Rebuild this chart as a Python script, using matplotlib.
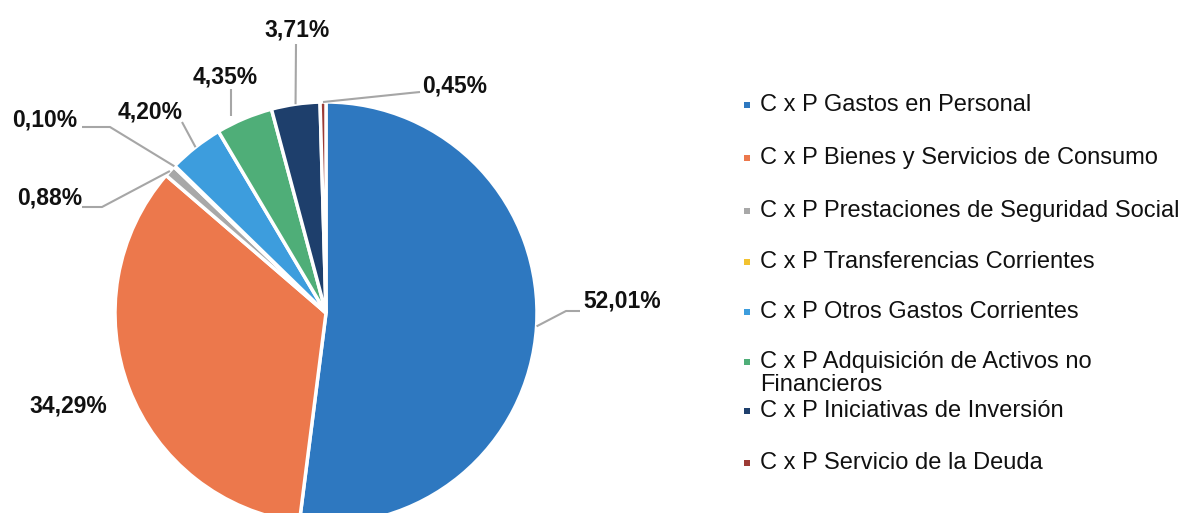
import numpy as np
import matplotlib.pyplot as plt

plt.rcParams['font.family'] = ['Liberation Sans', 'DejaVu Sans']

# data
categories = [
    'C x P Gastos en Personal',
    'C x P Bienes y Servicios de Consumo',
    'C x P Prestaciones de Seguridad Social',
    'C x P Transferencias Corrientes',
    'C x P Otros Gastos Corrientes',
    'C x P Adquisición de Activos no\nFinancieros',
    'C x P Iniciativas de Inversión',
    'C x P Servicio de la Deuda',
]
shares = [52.01, 34.29, 0.88, 0.10, 4.20, 4.35, 3.71, 0.45]
pct_labels = ['52,01%', '34,29%', '0,88%', '0,10%', '4,20%', '4,35%', '3,71%', '0,45%']

colors = ['#2e78c0', '#ec784c', '#a8a8a8', '#f2c230',
          '#3d9ddd', '#4fae78', '#1e3f6c', '#9c3b35']

W, H = 1189, 513
def py(y):
    # pixel row (from top) -> data y
    return H - y

fig = plt.figure(figsize=(W / 100, H / 100), dpi=100)
ax = fig.add_axes([0, 0, 1, 1])

cx, cy, r = 326, 313, 211
wedges, _ = ax.pie(shares, colors=colors, startangle=90, counterclock=False,
                   center=(cx, py(cy)), radius=r, frame=True,
                   wedgeprops=dict(edgecolor='white', linewidth=2.5))
ax.set_xlim(0, W)
ax.set_ylim(0, H)
ax.set_aspect('equal')
ax.axis('off')

# label text positions (px) and leader elbows (px), None = no leader
label_pos = [(622, 301), (68, 406), (50, 198), (45, 120),
             (150, 112), (225, 77), (297, 30), (455, 86)]
elbows = [
    [(566, 311), (580, 311)],
    None,
    [(102, 207), (82, 207)],
    [(110, 127), (82, 127)],
    [(182, 122)],
    [(231, 89)],
    [(296, 44)],
    [(410, 93), (420, 92)],
]
# leader start override (px) where the line doesn't leave from the wedge middle
starts = {5: (231, 116)}

for i, (w, lab, (tx, ty), el) in enumerate(zip(wedges, pct_labels, label_pos, elbows)):
    if el is not None:
        if i in starts:
            sx, sy = starts[i][0], py(starts[i][1])
        else:
            ang = np.deg2rad((w.theta1 + w.theta2) / 2)
            sx = cx + r * np.cos(ang)
            sy = py(cy) + r * np.sin(ang)
        xs = [sx] + [p[0] for p in el]
        ys = [sy] + [py(p[1]) for p in el]
        ax.plot(xs, ys, color='#a6a6a6', lw=1.5, solid_capstyle='butt')
    ax.text(tx, py(ty), lab, ha='center', va='center', fontsize=16.5,
            fontweight='bold', color='#111111')

# legend
leg_y = [105, 158, 211, 262, 312, 362, 411, 463]
for c, name, y in zip(colors, categories, leg_y):
    ax.scatter([747], [py(y)], marker='s', s=22, color=c, linewidths=0)
    lines = name.split('\n')
    ax.text(760, py(y), lines[0], ha='left', va='center',
            fontsize=17, color='#111111')
    if len(lines) > 1:
        ax.text(760, py(y + 23), lines[1], ha='left', va='center',
                fontsize=17, color='#111111')

fig.savefig('out.png', dpi=100, facecolor='white')
